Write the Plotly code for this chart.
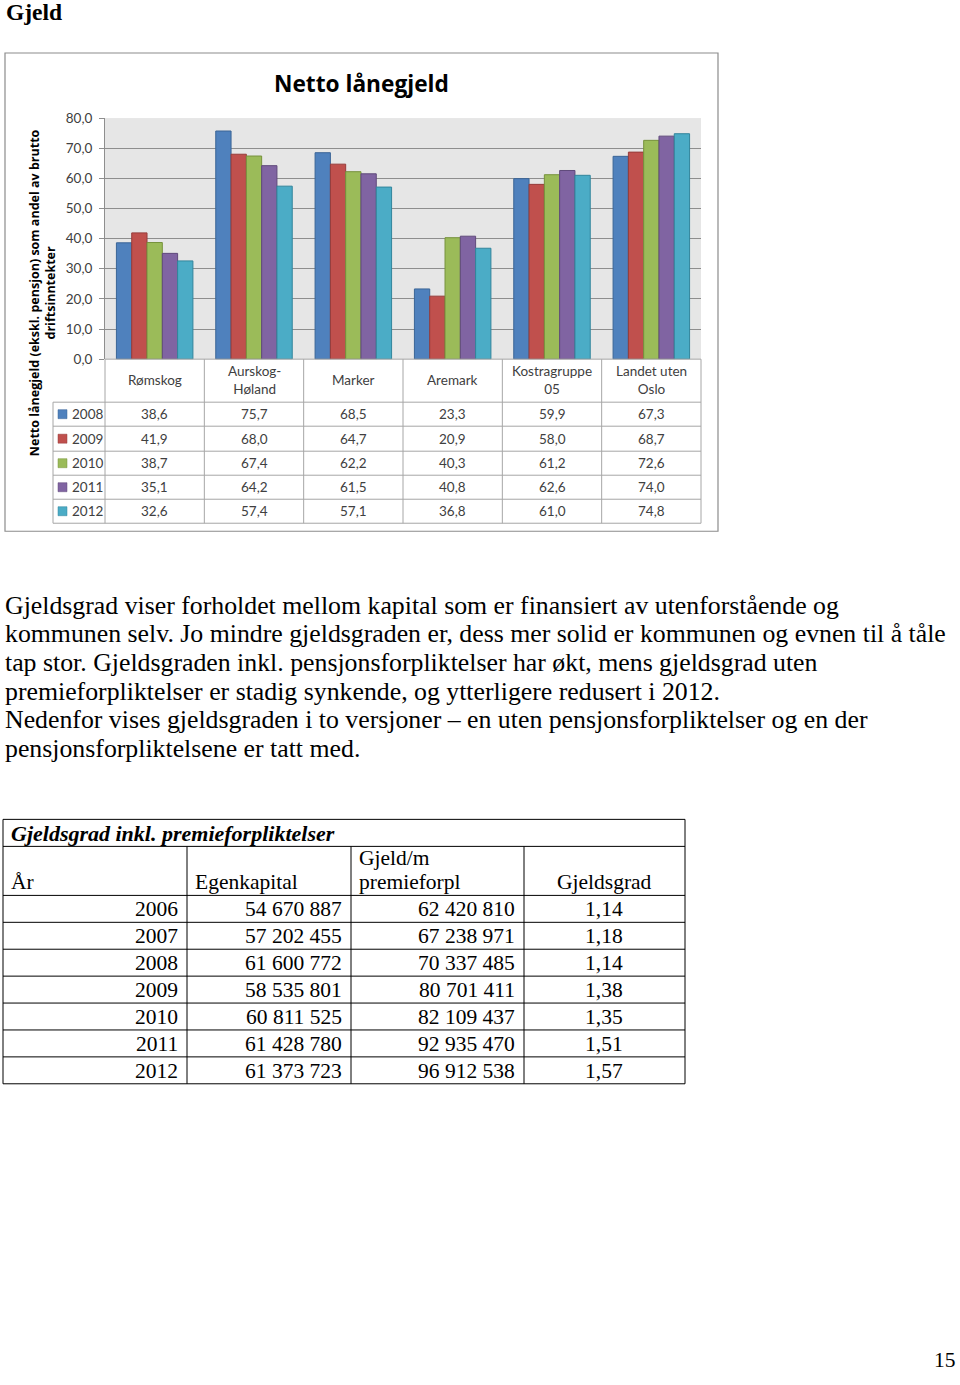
import plotly.graph_objects as go

W, H = 960, 1385

# ---------------- data ----------------
categories = ["Rømskog", "Aurskog-Høland", "Marker", "Aremark", "Kostragruppe 05", "Landet uten Oslo"]
category_labels = ["Rømskog", "Aurskog-<br>Høland", "Marker", "Aremark", "Kostragruppe<br>05", "Landet uten<br>Oslo"]
years = ["2008", "2009", "2010", "2011", "2012"]
v2008 = [38.6, 75.7, 68.5, 23.3, 59.9, 67.3]
v2009 = [41.9, 68.0, 64.7, 20.9, 58.0, 68.7]
v2010 = [38.7, 67.4, 62.2, 40.3, 61.2, 72.6]
v2011 = [35.1, 64.2, 61.5, 40.8, 62.6, 74.0]
v2012 = [32.6, 57.4, 57.1, 36.8, 61.0, 74.8]
series_values = [v2008, v2009, v2010, v2011, v2012]
y_ticks = [0, 10, 20, 30, 40, 50, 60, 70, 80]

tbl_years = [2006, 2007, 2008, 2009, 2010, 2011, 2012]
tbl_egenkapital = [54670887, 57202455, 61600772, 58535801, 60811525, 61428780, 61373723]
tbl_gjeld = [62420810, 67238971, 70337485, 80701411, 82109437, 92935470, 96912538]
tbl_gjeldsgrad = [1.14, 1.18, 1.14, 1.38, 1.35, 1.51, 1.57]

paragraph_lines = [
    "Gjeldsgrad viser forholdet mellom kapital som er finansiert av utenforstående og",
    "kommunen selv. Jo mindre gjeldsgraden er, dess mer solid er kommunen og evnen til å tåle",
    "tap stor. Gjeldsgraden inkl. pensjonsforpliktelser har økt, mens gjeldsgrad uten",
    "premieforpliktelser er stadig synkende, og ytterligere redusert i 2012.",
    "Nedenfor vises gjeldsgraden i to versjoner – en uten pensjonsforpliktelser og en der",
    "pensjonsforpliktelsene er tatt med.",
]

# ---------------- style ----------------
colors = ["#4F81BD", "#C0504D", "#9BBB59", "#8064A2", "#4BACC6"]
edge = ["#3A6496", "#963C3A", "#76923C", "#604A7B", "#31859C"]
SANS = "Lato, 'Open Sans', sans-serif"
SERIF = "'Liberation Serif', 'Times New Roman', serif"
GRID = "#8E8E8E"
TBL = "#A6A6A6"

# page-to-figure vertical correction (figure is shown slightly offset/compressed)
Y_OFF, Y_SCALE = 8.0, 0.988


def fy(y):
    return (y - Y_OFF) / Y_SCALE


def px(x):
    return x / W


def py(y):
    return 1 - fy(y) / H


def fmt1(v):
    return f"{v:.1f}".replace(".", ",")


def fmt_int(v):
    return f"{v:,}".replace(",", " ")


fig = go.Figure()
for i, yr in enumerate(years):
    fig.add_trace(go.Bar(
        x=categories, y=series_values[i], name=yr,
        marker=dict(color=colors[i], line=dict(color=edge[i], width=1)),
        showlegend=False,
    ))

PL, PR, PT, PB = 105, 701, 118, 359

shapes = []
annotations = []


def line(x0, y0, x1, y1, color=TBL, width=1):
    shapes.append(dict(type="line", xref="paper", yref="paper",
                       x0=px(x0), y0=py(y0), x1=px(x1), y1=py(y1),
                       line=dict(color=color, width=width)))


def text(x, y, t, size, family=SANS, anchor="left", color="#000", yanchor="middle", xref="paper", **kw):
    annotations.append(dict(xref=xref, yref="paper", x=(x if xref != "paper" else px(x)), y=py(y),
                            text=t, showarrow=False, xanchor=anchor, yanchor=yanchor,
                            font=dict(family=family, size=size, color=color), **kw))


# chart frame
shapes.append(dict(type="rect", xref="paper", yref="paper", x0=px(5), y0=py(531), x1=px(718), y1=py(53),
                   line=dict(color="#8C8C8C", width=1.2), fillcolor="rgba(0,0,0,0)", layer="below"))

# chart data table
row_lines = [402, 426, 451, 475, 499, 523]
for yl in row_lines:
    line(53, yl, PR, yl)
line(PL, PB, PR, PB)
for k in range(len(categories) + 1):
    xb = PL + k * (PR - PL) / len(categories)
    line(xb, PB, xb, row_lines[-1])
line(53, row_lines[0], 53, row_lines[-1])

for k, lab in enumerate(category_labels):
    text(categories[k], 380, lab, 13.5, anchor="center", color="#404040", xref="x")

for i, yr in enumerate(years):
    yc = (row_lines[i] + row_lines[i + 1]) / 2
    shapes.append(dict(type="rect", xref="paper", yref="paper", x0=px(58), x1=px(67),
                       y0=py(yc + 4.5), y1=py(yc - 4.5), fillcolor=colors[i],
                       line=dict(color=edge[i], width=0.5)))
    text(70, yc, yr, 13.5, color="#404040")
    for k, cat in enumerate(categories):
        text(cat, yc, fmt1(series_values[i][k]), 13.5, anchor="center", color="#404040", xref="x")

# titles
text(4, 12, "<b>Gjeld</b>", 23.5, family=SERIF)
text(361, 83, "<b>Netto lånegjeld</b>", 22.7, anchor="center", family="'Open Sans', sans-serif")
annotations.append(dict(xref="paper", yref="paper", x=px(42), y=py(293),
                        text="<b>Netto lånegjeld (ekskl. pensjon) som andel av brutto<br>driftsinntekter</b>",
                        showarrow=False, textangle=-90, xanchor="center", yanchor="middle",
                        font=dict(family="'Open Sans', sans-serif", size=12.5, color="#000")))

# paragraph
for j, ln in enumerate(paragraph_lines):
    text(3, 605 + j * 28.6, ln, 25.8, family=SERIF)

# bottom table
TX0, TX1 = 3, 685
col_x = [3, 187, 351, 524, 685]
ty_title_top, ty_head_top, ty_data_top = 819, 846, 895
rowh = 26.9
ty_bottom = ty_data_top + rowh * len(tbl_years)
line(TX0, ty_title_top, TX1, ty_title_top, color="#000")
line(TX0, ty_title_top, TX0, ty_bottom, color="#000")
line(TX1, ty_title_top, TX1, ty_bottom, color="#000")
line(TX0, ty_head_top, TX1, ty_head_top, color="#000")
for r in range(len(tbl_years) + 1):
    yl = ty_data_top + r * rowh
    line(TX0, yl, TX1, yl, color="#000")
for cx in col_x[1:-1]:
    line(cx, ty_head_top, cx, ty_bottom, color="#000")

TF = 21.5
text(9, 833, "<b><i>Gjeldsgrad inkl. premieforpliktelser</i></b>", 22, family=SERIF)
text(9, 882, "År", TF, family=SERIF)
text(193, 882, "Egenkapital", TF, family=SERIF)
text(357, 858, "Gjeld/m", TF, family=SERIF)
text(357, 882, "premieforpl", TF, family=SERIF)
text(604, 882, "Gjeldsgrad", TF, family=SERIF, anchor="center")
for r in range(len(tbl_years)):
    yc = ty_data_top + r * rowh + 14
    text(180, yc, str(tbl_years[r]), TF, family=SERIF, anchor="right")
    text(344, yc, fmt_int(tbl_egenkapital[r]), TF, family=SERIF, anchor="right")
    text(517, yc, fmt_int(tbl_gjeld[r]), TF, family=SERIF, anchor="right")
    text(604, yc, f"{tbl_gjeldsgrad[r]:.2f}".replace(".", ","), TF, family=SERIF, anchor="center")

text(958, 1373, "15", TF, family=SERIF, anchor="right", yanchor="bottom")

fig.update_layout(
    width=W, height=H,
    margin=dict(l=0, r=0, t=0, b=0),
    paper_bgcolor="white",
    plot_bgcolor="#E6E6E6",
    barmode="group", bargap=0.23, bargroupgap=0,
    separators=", ",
    shapes=shapes, annotations=annotations,
    xaxis=dict(domain=[px(PL), px(PR)], showticklabels=False, ticks="", showgrid=False,
               showline=False, zeroline=False, fixedrange=True),
    yaxis=dict(domain=[py(PB), py(PT)], range=[0, 80], tickvals=y_ticks,
               tickformat=".1f", showgrid=True, gridcolor=GRID, gridwidth=1,
               ticks="outside", ticklen=5, tickcolor=GRID, ticklabelstandoff=4,
               showline=True, linecolor=GRID, zeroline=False,
               tickfont=dict(family=SANS, size=13.5, color="#404040")),
)

fig.write_html(
    "out.html",
    config={"displayModeBar": False},
    post_script="document.body.style.margin='0';document.body.style.overflow='hidden';",
)
